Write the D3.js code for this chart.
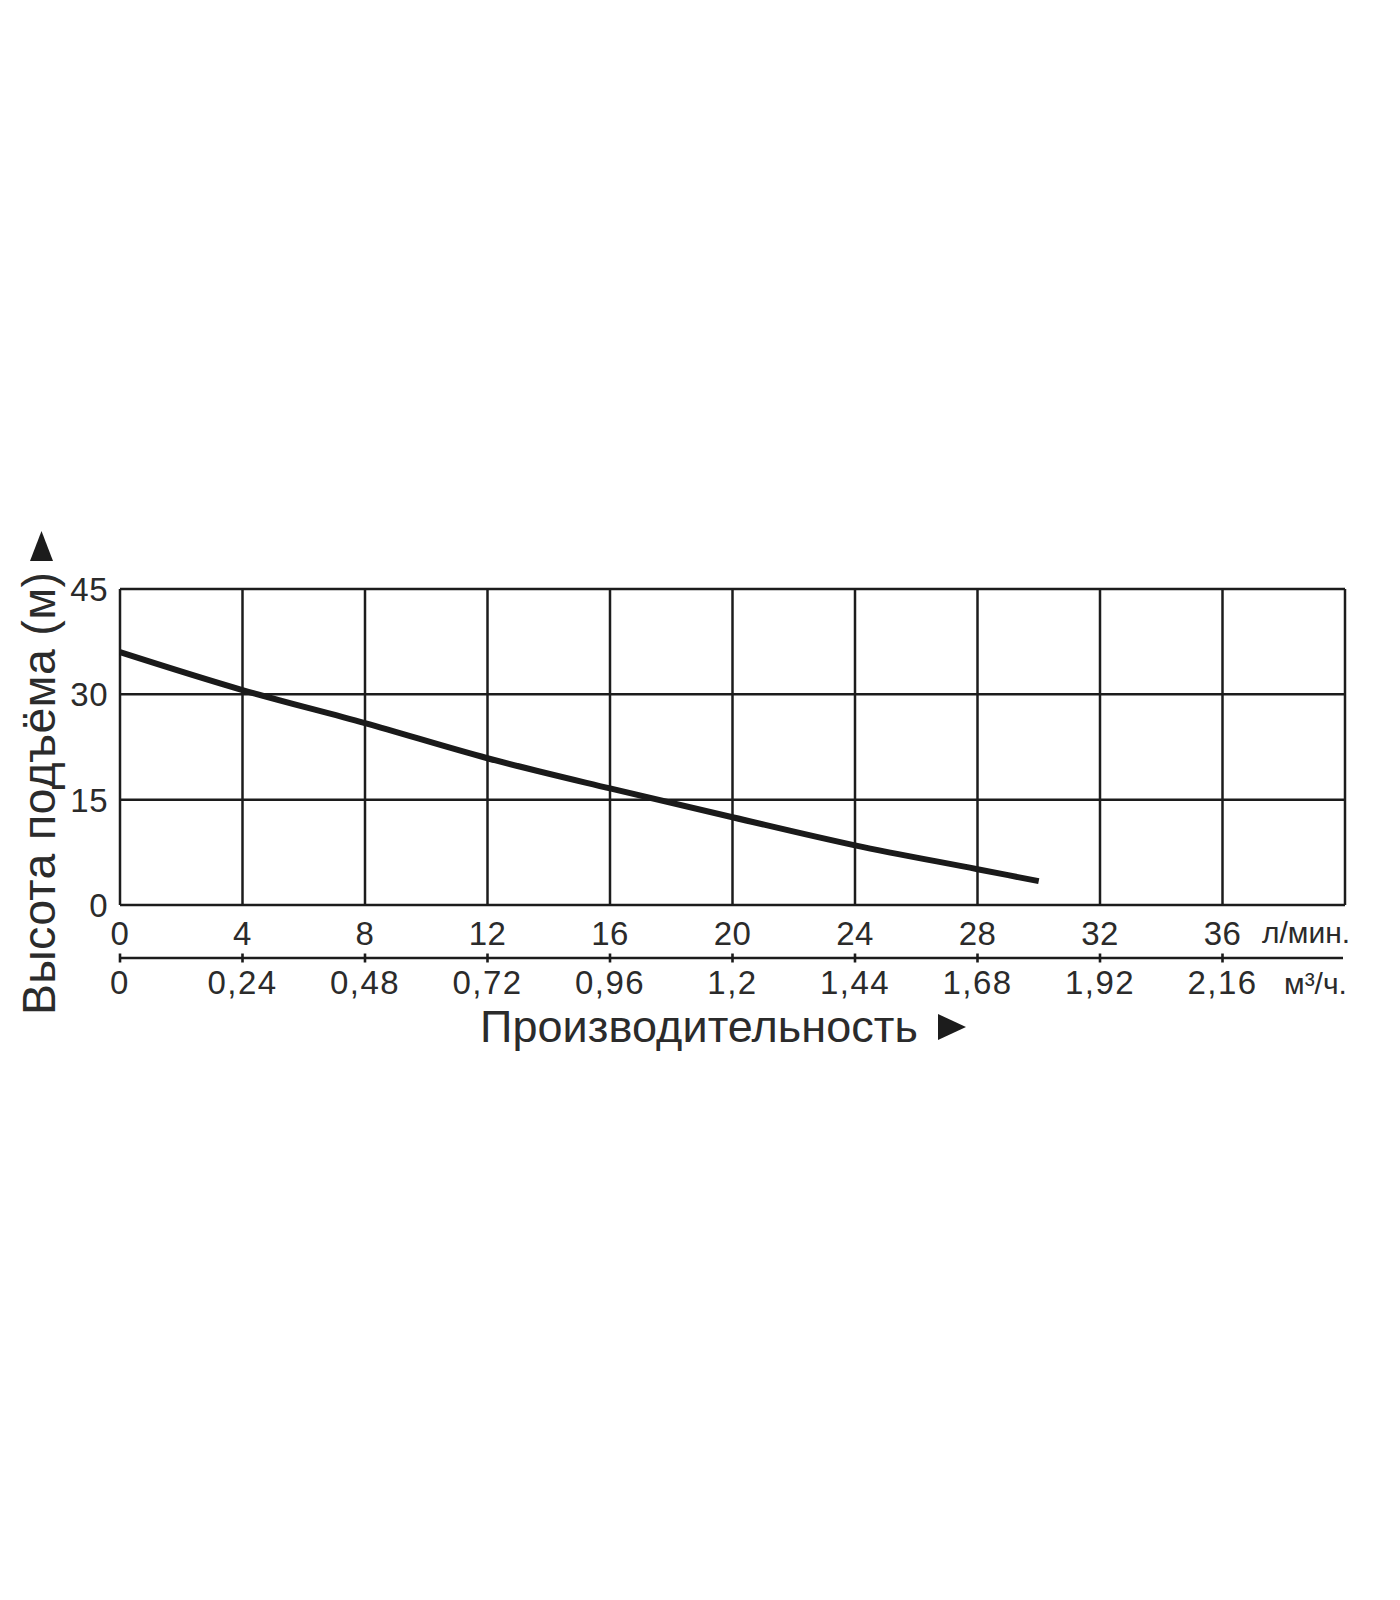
<!DOCTYPE html>
<html>
<head>
<meta charset="utf-8">
<script src="https://cdn.jsdelivr.net/npm/d3@7"></script>
<style>
  html, body { margin: 0; padding: 0; background: #fff; }
  svg { display: block; }
  text { font-family: "Liberation Sans", Arial, sans-serif; fill: #2b2b2b; }
</style>
</head>
<body>
<svg id="chart" width="1400" height="1600"></svg>
<script>
// ---- data ----
const flowLpm = [0, 4, 8, 12, 16, 20, 24, 28, 30];
const headM   = [36, 30.6, 25.9, 20.9, 16.6, 12.5, 8.5, 5.1, 3.4];
const xTicksLpm = [0, 4, 8, 12, 16, 20, 24, 28, 32, 36];
const xTicksM3h = [0, 0.24, 0.48, 0.72, 0.96, 1.2, 1.44, 1.68, 1.92, 2.16];
const xGridLpm = [0, 4, 8, 12, 16, 20, 24, 28, 32, 36, 40];
const yTicks = [0, 15, 30, 45];
const yLabel = "Высота подъёма (м)";
const xLabel = "Производительность";
const unitLpm = "л/мин.";
const unitM3h = "м³/ч.";

// ---- layout ----
const L = 120, R = 1345, T = 589, B = 905;
const svg = d3.select("#chart");
const x = d3.scaleLinear().domain([0, 40]).range([L, R]);
const x2 = d3.scaleLinear().domain([0, 2.4]).range([L, R]);
const y = d3.scaleLinear().domain([0, 45]).range([B, T]);
const ink = "#1c1c1c";

// grid
const g = svg.append("g");
g.selectAll("line.v").data(xGridLpm).enter().append("line")
  .attr("x1", d => x(d)).attr("x2", d => x(d)).attr("y1", T).attr("y2", B)
  .attr("stroke", ink).attr("stroke-width", 2.5);
g.selectAll("line.h").data(yTicks).enter().append("line")
  .attr("x1", L).attr("x2", R).attr("y1", d => y(d)).attr("y2", d => y(d))
  .attr("stroke", ink).attr("stroke-width", 2.5);

// y tick labels
svg.selectAll("text.yt").data(yTicks).enter().append("text")
  .attr("x", 108).attr("y", d => y(d)).attr("dy", "0.36em")
  .attr("text-anchor", "end").attr("font-size", 33).attr("letter-spacing", 0.5).text(d => d);

// top x labels (l/min)
svg.selectAll("text.xt").data(xTicksLpm).enter().append("text")
  .attr("x", d => x(d)).attr("y", 945)
  .attr("text-anchor", "middle").attr("font-size", 33).attr("letter-spacing", 0.5).text(d => d);
svg.append("text").attr("x", 1262).attr("y", 943).attr("font-size", 30).text(unitLpm);

// secondary axis line (m3/h)
const axY = 958;
svg.append("line").attr("x1", x2(0)).attr("x2", R - 2).attr("y1", axY).attr("y2", axY)
  .attr("stroke", ink).attr("stroke-width", 2.5);
svg.selectAll("line.t2").data(xTicksM3h).enter().append("line")
  .attr("x1", d => x2(d)).attr("x2", d => x2(d)).attr("y1", axY - 4.5).attr("y2", axY + 4.5)
  .attr("stroke", ink).attr("stroke-width", 2.6);
const fmt = d => String(d).replace(".", ",");
svg.selectAll("text.xt2").data(xTicksM3h).enter().append("text")
  .attr("x", d => x2(d)).attr("y", 994)
  .attr("text-anchor", "middle").attr("font-size", 33).attr("letter-spacing", 1.5).text(fmt);
svg.append("text").attr("x", 1284).attr("y", 994).attr("font-size", 30).text(unitM3h);

// curve
const pts = flowLpm.map((f, i) => [f, headM[i]]);
svg.append("path").datum(pts)
  .attr("d", d3.line().x(d => x(d[0])).y(d => y(d[1])).curve(d3.curveMonotoneX))
  .attr("fill", "none").attr("stroke", "#1a1a1a").attr("stroke-width", 6);

// x title with arrow
const xt = svg.append("text").attr("x", 480).attr("y", 1042).attr("font-size", 45)
  .attr("textLength", 438).attr("lengthAdjust", "spacing").text(xLabel);
const ax0 = 480 + 438 + 20;
svg.append("path")
  .attr("d", `M${ax0},1014 L${ax0 + 28},1027 L${ax0},1040 Z`).attr("fill", "#1c1c1c");

// y title with arrow
const yLen = 443;
const yt = svg.append("text")
  .attr("transform", "translate(55,1015) rotate(-90)")
  .attr("font-size", 46.5).attr("textLength", yLen).attr("lengthAdjust", "spacing").text(yLabel);
const ay0 = 1015 - yLen - 11;
svg.append("path")
  .attr("d", `M30,${ay0} L53,${ay0} L41.5,${ay0 - 30} Z`).attr("fill", "#1c1c1c");
</script>
</body>
</html>
